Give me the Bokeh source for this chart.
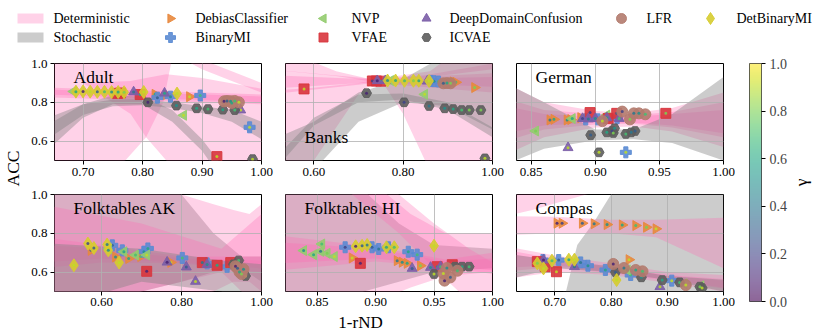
import math
from bokeh.plotting import figure
from bokeh.models import (Range1d, FixedTicker, PrintfTickFormatter, Label, ColorBar,
                          LinearColorMapper, ColumnDataSource)
from bokeh.layouts import column, row
from bokeh.palettes import Viridis256
from bokeh.transform import linear_cmap
from bokeh.embed import file_html
from bokeh.resources import INLINE
from bokeh.core.properties import value

# ---------------- data ----------------
METHODS = ["DebiasClassifier", "BinaryMI", "NVP", "VFAE",
           "DeepDomainConfusion", "ICVAE", "LFR", "DetBinaryMI"]
BAND_KINDS = ["Deterministic", "Stochastic"]

# method -> (1-rND values, ACC values, gamma values)
ADULT = {
    "DebiasClassifier": ([0.821, 0.840, 0.879], [0.841, 0.839, 0.829], [0.6, 0.8, 0.9]),
    "BinaryMI": ([0.825, 0.847, 0.897, 0.980], [0.824, 0.829, 0.835, 0.671], [0.3, 0.5, 0.7, 0.9]),
    "NVP": ([0.684, 0.869], [0.856, 0.733], [0.6, 0.9]),
    "VFAE": ([0.758, 0.763, 0.796, 0.925], [0.846, 0.848, 0.840, 0.520], [0.2, 0.4, 0.6, 0.9]),
    "DeepDomainConfusion": ([0.785, 0.837, 0.965], [0.853, 0.847, 0.760], [0.4, 0.6, 0.9]),
    "ICVAE": ([0.809, 0.857, 0.891, 0.910, 0.935, 0.955, 0.985],
              [0.800, 0.783, 0.769, 0.765, 0.762, 0.760, 0.507],
              [0.1, 0.5, 0.6, 0.7, 0.6, 0.7, 0.9]),
    "LFR": ([0.937, 0.942, 0.948, 0.955, 0.962, 0.950],
            [0.805, 0.807, 0.806, 0.807, 0.800, 0.797],
            [0.1, 0.3, 0.5, 0.7, 0.9, 0.6]),
    "DetBinaryMI": ([0.688, 0.700, 0.712, 0.724, 0.736, 0.748, 0.759, 0.769, 0.802, 0.858],
                    [0.855, 0.856, 0.855, 0.854, 0.854, 0.853, 0.853, 0.852, 0.853, 0.845],
                    [0.6, 0.1, 0.9, 0.3, 0.7, 0.5, 0.6, 0.8, 0.9, 0.9]),
}
BANKS = {
    "DebiasClassifier": ([0.912, 0.918, 0.960], [0.905, 0.903, 0.876], [0.5, 0.7, 0.8]),
    "BinaryMI": ([0.862, 0.869, 0.879], [0.910, 0.909, 0.907], [0.3, 0.5, 0.7]),
    "NVP": ([0.772, 0.848], [0.912, 0.841], [0.6, 0.9]),
    "VFAE": ([0.578, 0.731, 0.740, 0.750], [0.869, 0.910, 0.910, 0.909], [0.9, 0.2, 0.4, 0.6]),
    "DeepDomainConfusion": ([0.742, 0.760, 0.854], [0.911, 0.911, 0.909], [0.1, 0.3, 0.5]),
    "ICVAE": ([0.718, 0.802, 0.858, 0.893, 0.912, 0.931, 0.948, 0.974, 0.983],
              [0.847, 0.800, 0.781, 0.769, 0.765, 0.760, 0.760, 0.760, 0.511],
              [0.1, 0.2, 0.4, 0.5, 0.6, 0.7, 0.8, 0.8, 0.9]),
    "LFR": ([0.890, 0.898, 0.906], [0.898, 0.899, 0.898], [0.3, 0.6, 0.8]),
    "DetBinaryMI": ([0.765, 0.783, 0.803, 0.823, 0.835, 0.858],
                    [0.912, 0.912, 0.911, 0.911, 0.911, 0.910],
                    [0.5, 0.6, 0.7, 0.8, 0.6, 0.9]),
}
GERMAN = {
    "DebiasClassifier": ([0.8646, 0.8677, 0.878, 0.8808, 0.8886, 0.9134],
                         [0.709, 0.712, 0.709, 0.711, 0.721, 0.721],
                         [0.4, 0.6, 0.5, 0.7, 0.8, 0.9]),
    "BinaryMI": ([0.8925, 0.902, 0.917, 0.9238], [0.712, 0.712, 0.718, 0.542], [0.3, 0.5, 0.7, 0.9]),
    "NVP": ([0.8534, 0.882, 0.909], [0.652, 0.716, 0.734], [0.8, 0.6, 0.9]),
    "VFAE": ([0.8959, 0.910, 0.9167, 0.955], [0.747, 0.716, 0.743, 0.743], [0.2, 0.4, 0.3, 0.8]),
    "DeepDomainConfusion": ([0.8787, 0.890, 0.8946, 0.900, 0.909, 0.9186],
                            [0.566, 0.716, 0.714, 0.716, 0.720, 0.716],
                            [0.9, 0.2, 0.4, 0.5, 0.6, 0.7]),
    "ICVAE": ([0.8964, 0.9029, 0.909, 0.913, 0.915, 0.914, 0.9238, 0.928, 0.931],
              [0.631, 0.542, 0.645, 0.652, 0.666, 0.642, 0.637, 0.645, 0.652],
              [0.3, 0.9, 0.6, 0.2, 0.5, 0.8, 0.7, 0.4, 0.3]),
    "LFR": ([0.9055, 0.921, 0.927, 0.930, 0.934, 0.939],
            [0.703, 0.752, 0.712, 0.743, 0.743, 0.738],
            [0.9, 0.2, 0.8, 0.4, 0.5, 0.7]),
    "DetBinaryMI": ([], [], []),
}
FOLK_AK = {
    "DebiasClassifier": ([0.574, 0.635, 0.668, 0.698, 0.773], [0.712, 0.678, 0.670, 0.680, 0.650],
                         [0.3, 0.5, 0.6, 0.7, 0.9]),
    "BinaryMI": ([0.627, 0.652, 0.706, 0.716, 0.802, 0.864, 0.914],
                 [0.738, 0.712, 0.705, 0.722, 0.673, 0.645, 0.627],
                 [0.3, 0.4, 0.5, 0.6, 0.7, 0.8, 0.9]),
    "NVP": ([0.618, 0.656, 0.685, 0.713], [0.720, 0.705, 0.688, 0.688], [0.5, 0.6, 0.7, 0.9]),
    "VFAE": ([0.713, 0.852, 0.889, 0.923], [0.604, 0.649, 0.635, 0.649], [0.1, 0.4, 0.6, 0.8]),
    "DeepDomainConfusion": ([0.764, 0.812, 0.835, 0.864], [0.651, 0.626, 0.552, 0.639], [0.1, 0.3, 0.9, 0.5]),
    "ICVAE": ([0.930, 0.943, 0.960], [0.640, 0.660, 0.580], [0.5, 0.7, 0.9]),
    "LFR": ([0.940, 0.945, 0.950, 0.955, 0.935], [0.620, 0.600, 0.590, 0.615, 0.630], [0.3, 0.6, 0.8, 0.5, 0.1]),
    "DetBinaryMI": ([0.531, 0.566, 0.581, 0.614, 0.617, 0.644],
                    [0.635, 0.747, 0.724, 0.742, 0.712, 0.649],
                    [0.9, 0.2, 0.3, 0.4, 0.5, 0.9]),
}
FOLK_HI = {
    "DebiasClassifier": ([0.880, 0.9185, 0.9228, 0.927, 0.9384], [0.673, 0.659, 0.651, 0.645, 0.633],
                         [0.9, 0.4, 0.5, 0.6, 0.8]),
    "BinaryMI": ([0.874, 0.897, 0.9027, 0.911, 0.928, 0.9356], [0.728, 0.728, 0.719, 0.728, 0.705, 0.690],
                 [0.2, 0.3, 0.4, 0.5, 0.6, 0.7]),
    "NVP": ([0.8385, 0.847, 0.853, 0.854, 0.8586, 0.8648], [0.711, 0.690, 0.707, 0.745, 0.697, 0.680],
            [0.5, 0.6, 0.4, 0.7, 0.8, 0.9]),
    "VFAE": ([0.887, 0.9527, 0.9656], [0.645, 0.628, 0.638], [0.1, 0.5, 0.7]),
    "DeepDomainConfusion": ([0.9313, 0.947, 0.9556], [0.619, 0.624, 0.628], [0.3, 0.5, 0.7]),
    "ICVAE": ([0.950, 0.968, 0.974, 0.980], [0.590, 0.628, 0.628, 0.628], [0.9, 0.5, 0.6, 0.7]),
    "LFR": ([0.958, 0.959, 0.961, 0.964, 0.970], [0.593, 0.556, 0.621, 0.573, 0.607], [0.9, 0.1, 0.5, 0.3, 0.7]),
    "DetBinaryMI": ([0.883, 0.8885, 0.8928, 0.9093, 0.916, 0.950], [0.733, 0.736, 0.740, 0.728, 0.728, 0.736],
                    [0.1, 0.3, 0.4, 0.6, 0.7, 0.9]),
}
COMPAS = {
    "DebiasClassifier": ([0.704, 0.713, 0.749, 0.770, 0.793, 0.820, 0.844, 0.863, 0.880, 0.832],
                         [0.852, 0.852, 0.852, 0.849, 0.845, 0.843, 0.840, 0.831, 0.823, 0.664],
                         [0.1, 0.2, 0.3, 0.4, 0.5, 0.6, 0.7, 0.8, 0.9, 0.9]),
    "BinaryMI": ([0.679, 0.707, 0.746, 0.759, 0.790, 0.835, 0.908],
                 [0.662, 0.662, 0.650, 0.633, 0.611, 0.585, 0.556],
                 [0.2, 0.3, 0.4, 0.5, 0.6, 0.7, 0.9]),
    "NVP": ([0.829, 0.930, 0.960], [0.611, 0.540, 0.530], [0.6, 0.8, 0.9]),
    "VFAE": ([0.669, 0.683, 0.703], [0.654, 0.628, 0.602], [0.3, 0.6, 0.9]),
    "DeepDomainConfusion": ([0.680, 0.735, 0.887], [0.662, 0.628, 0.525], [0.1, 0.4, 0.9]),
    "ICVAE": ([0.808, 0.854, 0.891, 0.922, 0.958, 0.962], [0.599, 0.573, 0.559, 0.547, 0.525, 0.518],
              [0.3, 0.5, 0.6, 0.7, 0.8, 0.9]),
    "LFR": ([0.804, 0.823, 0.844, 0.856, 0.933], [0.642, 0.621, 0.611, 0.604, 0.533], [0.1, 0.4, 0.6, 0.7, 0.9]),
    "DetBinaryMI": ([0.669, 0.680, 0.695, 0.725, 0.735, 0.810], [0.645, 0.619, 0.659, 0.664, 0.664, 0.559],
                    [0.8, 0.9, 0.7, 0.6, 0.9, 0.9]),
}

# confidence bands: (kind, 1-rND knots, lower ACC, upper ACC)
ADULT_BANDS = [
    ("det", [0.60, 0.771, 0.806, 0.835, 0.848], [0.30, 0.50, 0.62, 0.80, 1.00], [1.20, 1.20, 1.20, 1.20, 1.20]),
    ("det", [0.70, 0.78, 0.806, 0.84, 0.90, 1.0], [0.90, 0.74, 0.62, 0.50, 0.30, 0.10], [0.90, 0.91, 0.925, 0.945, 0.925, 0.87]),
    ("det", [0.87, 0.90, 0.95, 1.0], [1.02, 0.97, 0.91, 0.85], [1.08, 1.02, 0.96, 0.90]),
    ("det", [0.60, 1.0], [0.83, 0.79], [0.88, 0.84]),
    ("det", [0.60, 1.0], [0.845, 0.80], [0.87, 0.83]),
    ("sto", [0.65, 0.70, 0.75, 0.80, 0.85, 0.90, 0.95, 1.0],
     [0.63, 0.735, 0.78, 0.785, 0.77, 0.745, 0.70, 0.61], [0.73, 0.79, 0.815, 0.815, 0.80, 0.78, 0.76, 0.70]),
    ("sto", [0.65, 0.70, 0.75, 0.80, 0.85, 0.90, 0.95],
     [0.58, 0.72, 0.79, 0.79, 0.70, 0.55, 0.33], [0.70, 0.79, 0.835, 0.83, 0.76, 0.61, 0.41]),
]
BANKS_BANDS = [
    ("det", [0.50, 0.65, 0.735, 0.76, 0.80, 0.849, 0.90, 1.0],
     [0.97, 0.935, 0.905, 0.88, 0.74, 0.50, 0.25, -0.2], [1.10, 0.96, 0.915, 0.92, 0.93, 0.94, 0.96, 1.0]),
    ("det", [0.50, 0.60, 0.70, 0.735, 0.77, 0.86, 1.0],
     [-0.2, 0.50, 0.84, 0.905, 0.915, 0.93, 0.97], [0.86, 0.875, 0.90, 0.915, 0.93, 0.96, 1.2]),
    ("det", [0.50, 0.735, 1.0], [0.84, 0.90, 0.85], [0.97, 0.92, 0.95]),
    ("det", [0.50, 0.735, 1.0], [0.87, 0.903, 0.88], [0.94, 0.917, 0.93]),
    ("sto", [0.50, 0.60, 0.70, 0.80, 0.90, 1.0], [0.30, 0.45, 0.70, 0.80, 0.78, 0.66], [0.60, 0.70, 0.85, 0.92, 1.05, 1.30]),
    ("sto", [0.50, 0.60, 0.70, 0.80, 0.90, 1.0], [0.42, 0.68, 0.80, 0.815, 0.76, 0.62], [0.48, 0.72, 0.84, 0.845, 0.80, 0.67]),
]
GERMAN_BANDS = [
    ("det", [0.83, 0.86, 0.90, 0.93, 0.96, 1.0], [0.53, 0.62, 0.67, 0.675, 0.65, 0.57], [0.90, 0.80, 0.755, 0.745, 0.77, 0.85]),
    ("det", [0.83, 0.86, 0.90, 0.93, 0.96, 1.0], [0.60, 0.66, 0.685, 0.69, 0.67, 0.62], [0.82, 0.76, 0.74, 0.735, 0.75, 0.80]),
    ("det", [0.83, 0.86, 0.90, 0.93, 0.96, 1.0], [0.64, 0.68, 0.695, 0.695, 0.68, 0.64], [0.78, 0.74, 0.725, 0.725, 0.74, 0.76]),
    ("sto", [0.83, 0.86, 0.90, 0.93, 0.96, 1.0], [0.48, 0.56, 0.605, 0.61, 0.59, 0.50], [0.90, 0.80, 0.66, 0.66, 0.74, 0.93]),
]
AK_BANDS = [
    ("sto", [0.45, 0.60, 0.70, 0.80, 0.88, 0.95, 1.0], [0.20, 0.40, 0.50, 0.55, 0.60, 0.62, 0.55], [1.2, 1.1, 1.05, 1.0, 0.80, 0.68, 0.68]),
    ("det", [0.45, 0.60, 0.70, 0.80, 0.88, 0.93, 0.97, 1.0], [0.2, 0.3, 0.4, 0.45, 0.50, 0.55, 0.55, 0.5], [1.3, 1.1, 1.05, 1.0, 0.95, 0.92, 0.9, 0.95]),
    ("det", [0.45, 0.70, 0.90, 1.0], [0.40, 0.50, 0.60, 0.40], [0.95, 0.85, 0.72, 0.90]),
    ("det", [0.45, 0.60, 0.80, 1.0], [0.62, 0.65, 0.645, 0.60], [0.78, 0.74, 0.68, 0.68]),
    ("det", [0.45, 0.60, 0.80, 1.0], [0.65, 0.67, 0.65, 0.62], [0.74, 0.72, 0.67, 0.66]),
    ("sto", [0.45, 0.70, 0.90, 1.0], [0.40, 0.55, 0.50, 0.30], [0.75, 0.72, 0.66, 0.64]),
]
HI_BANDS = [
    ("sto", [0.80, 0.85, 0.89, 0.92, 0.95, 1.0], [0.30, 0.40, 0.50, 0.55, 0.60, 0.62], [1.2, 1.1, 1.02, 0.85, 0.74, 0.72]),
    ("det", [0.80, 0.85, 0.90, 0.93, 0.96, 1.0], [0.30, 0.40, 0.45, 0.52, 0.58, 0.60], [1.3, 1.15, 1.05, 0.90, 0.80, 0.80]),
    ("det", [0.80, 0.90, 0.96, 1.0], [0.60, 0.655, 0.625, 0.59], [0.80, 0.73, 0.665, 0.70]),
    ("det", [0.80, 0.90, 0.96, 1.0], [0.64, 0.67, 0.63, 0.61], [0.76, 0.72, 0.655, 0.67]),
    ("det", [0.88, 0.92, 0.95, 0.98, 1.0], [1.00, 0.80, 0.62, 0.45, 0.30], [1.10, 1.00, 0.85, 0.72, 0.65]),
]
COMPAS_BANDS = [
    ("sto", [0.715, 0.72, 0.74, 0.77, 0.80, 1.0], [0.50, 0.30, 0.30, 0.30, 0.30, 0.30], [0.50, 0.50, 0.74, 0.86, 1.00, 1.10]),
    ("det", [0.60, 0.70, 0.80, 0.88, 1.0], [0.79, 0.80, 0.80, 0.78, 0.62], [0.89, 0.885, 0.87, 0.87, 0.88]),
    ("det", [0.60, 0.66, 0.72, 0.78], [0.88, 0.92, 0.97, 1.02], [0.98, 1.02, 1.06, 1.10]),
    ("det", [0.60, 0.70, 0.80, 0.90, 1.0], [0.56, 0.60, 0.585, 0.545, 0.50], [0.74, 0.685, 0.645, 0.60, 0.585]),
    ("det", [0.60, 0.70, 0.80, 0.90, 1.0], [0.60, 0.625, 0.595, 0.555, 0.515], [0.72, 0.67, 0.63, 0.585, 0.565]),
    ("det", [0.60, 0.70, 0.80, 0.90, 1.0], [0.62, 0.635, 0.60, 0.56, 0.52], [0.70, 0.66, 0.625, 0.58, 0.555]),
    ("sto", [0.60, 0.70, 0.80, 0.90, 1.0], [0.55, 0.62, 0.60, 0.56, 0.50], [0.70, 0.66, 0.63, 0.58, 0.56]),
]

Y_TICKS = [0.6, 0.8, 1.0]
CB_TICKS = [0.0, 0.2, 0.4, 0.6, 0.8, 1.0]

PANELS = [
    dict(name="Adult", data=ADULT, bands=ADULT_BANDS, xr=(0.652, 1.0), xticks=[0.7, 0.8, 0.9, 1.0], top=True),
    dict(name="Banks", data=BANKS, bands=BANKS_BANDS, xr=(0.5365, 1.0), xticks=[0.6, 0.8, 1.0], top=False),
    dict(name="German", data=GERMAN, bands=GERMAN_BANDS, xr=(0.8385, 1.0), xticks=[0.85, 0.90, 0.95, 1.0], top=True),
    dict(name="Folktables AK", data=FOLK_AK, bands=AK_BANDS, xr=(0.4825, 1.0), xticks=[0.6, 0.8, 1.0], top=True),
    dict(name="Folktables HI", data=FOLK_HI, bands=HI_BANDS, xr=(0.823, 1.0), xticks=[0.85, 0.90, 0.95, 1.0], top=True),
    dict(name="Compas", data=COMPAS, bands=COMPAS_BANDS, xr=(0.632, 1.0), xticks=[0.7, 0.8, 0.9, 1.0], top=True),
]

# ---------------- styles / layout ----------------
FONT = "Liberation Serif"
DET_COLOR, DET_ALPHA = "#ff69b4", 0.3
STO_COLOR, STO_ALPHA = "#808080", 0.4
STYLE = {
    "DebiasClassifier": dict(marker="triangle", angle=-math.pi / 2, color="#e8883d", size=10),
    "BinaryMI": dict(marker="plus", angle=0.0, color="#5b8bd3", size=11),
    "NVP": dict(marker="triangle", angle=math.pi / 2, color="#93cc6f", size=10),
    "VFAE": dict(marker="square", angle=0.0, color="#d8353d", size=10),
    "DeepDomainConfusion": dict(marker="triangle", angle=0.0, color="#7b5ea7", size=10),
    "ICVAE": dict(marker="hex", angle=0.0, color="#5d5d5d", size=10),
    "LFR": dict(marker="circle", angle=0.0, color="#b27b6e", size=11),
    "DetBinaryMI": dict(marker="diamond", angle=0.0, color="#d6cc2f", size=13),
}

ACC_W = 28
WIDTHS = [247, 231, 229]
BL = [26, 10, 10]
BR = [14, 14, 12]
HEIGHTS = [131, 126]
BT = 8
BB = [26, 21]
STANDOFF = [3, 2]
XLAB_H = 22
CB_W = 87
SIDE_H = HEIGHTS[0] + HEIGHTS[1] + XLAB_H
LEG_W, LEG_H = ACC_W + sum(WIDTHS) + CB_W, 55
FRAME_W, FRAME_H = 207, 97
PAGE_BOTTOM = LEG_H + SIDE_H


def blank(width, height):
    f = figure(width=width, height=height, x_range=Range1d(0, width), y_range=Range1d(0, height),
               output_backend="svg", toolbar_location=None, x_axis_type=None, y_axis_type=None,
               min_border_left=0, min_border_right=0, min_border_top=0, min_border_bottom=0)
    f.outline_line_color = None
    f.background_fill_color = "white"
    f.border_fill_color = "white"
    return f


def make_panel(spec, col, r):
    x0, x1 = spec["xr"]
    p = figure(width=WIDTHS[col], height=HEIGHTS[r], x_range=Range1d(x0, x1), y_range=Range1d(0.5, 1.0),
               output_backend="svg", toolbar_location=None,
               min_border_left=BL[col], min_border_right=BR[col],
               min_border_top=BT, min_border_bottom=BB[r])
    p.background_fill_color = "white"
    p.border_fill_color = "white"
    p.outline_line_color = "black"
    p.outline_line_width = 1
    p.outline_line_alpha = 1.0

    for kind, xs, lo, hi in spec["bands"]:
        rr = p.varea(x=xs, y1=lo, y2=hi,
                     fill_color=DET_COLOR if kind == "det" else STO_COLOR,
                     fill_alpha=DET_ALPHA if kind == "det" else STO_ALPHA)
        rr.level = "image"

    for m in METHODS:
        xs, ys, gs = spec["data"][m]
        if not xs:
            continue
        st = STYLE[m]
        src = ColumnDataSource(dict(x=xs, y=ys, g=gs))
        p.scatter("x", "y", source=src, marker=st["marker"], size=st["size"], angle=st["angle"],
                  fill_color=st["color"], line_color=st["color"], fill_alpha=0.9, line_alpha=0.9)
        p.scatter("x", "y", source=src, marker="circle", size=3,
                  fill_color=linear_cmap("g", Viridis256, 0, 1), line_color=None, fill_alpha=0.85)

    p.xaxis.ticker = FixedTicker(ticks=spec["xticks"])
    p.xaxis.formatter = PrintfTickFormatter(format="%.2f")
    p.yaxis.ticker = FixedTicker(ticks=Y_TICKS)
    p.yaxis.formatter = PrintfTickFormatter(format="%.1f")
    for ax in (p.xaxis[0], p.yaxis[0]):
        ax.axis_line_color = None
        ax.major_tick_line_color = "black"
        ax.major_tick_out = 4
        ax.major_tick_in = 0
        ax.minor_tick_line_color = None
        ax.major_label_text_font = FONT
        ax.major_label_text_font_size = "13px"
        ax.major_label_text_color = "black"
        ax.major_label_standoff = 3
    p.xaxis.major_label_standoff = STANDOFF[r]
    if col != 0:
        p.yaxis.visible = False
    p.grid.grid_line_color = "#b0b0b0"
    p.grid.grid_line_alpha = 0.8
    p.grid.level = "underlay"

    ty = 1.0 - 13 / FRAME_H * 0.5 if spec["top"] else 1.0 - 73 / FRAME_H * 0.5
    p.add_layout(Label(x=x0 + 19 / FRAME_W * (x1 - x0), y=ty, text=spec["name"], text_font=FONT,
                       text_font_size="17.5px", text_baseline="middle", text_align="left",
                       text_color="black"))
    return p


panels = [make_panel(spec, i % 3, i // 3) for i, spec in enumerate(PANELS)]

# shared axis labels in their own strips
acc_fig = blank(ACC_W, SIDE_H)
acc_fig.add_layout(Label(x=12, y=PAGE_BOTTOM - 168, text="ACC", angle=math.pi / 2, text_font=FONT,
                         text_font_size="17.5px", text_align="center", text_baseline="middle",
                         text_color="black"))
xlab_fig = blank(sum(WIDTHS), XLAB_H)
xlab_fig.add_layout(Label(x=360 - ACC_W, y=PAGE_BOTTOM - 322, text="1-rND", text_font=FONT,
                          text_font_size="17px", text_align="center", text_baseline="middle",
                          text_color="black"))

# ---------------- colour bar ----------------
cb_fig = blank(CB_W, SIDE_H)
mapper = LinearColorMapper(palette=Viridis256, low=0, high=1)
cb = ColorBar(color_mapper=mapper, ticker=FixedTicker(ticks=CB_TICKS),
              formatter=PrintfTickFormatter(format="%.1f"),
              width=12, height=238, location=(14, PAGE_BOTTOM - 301), padding=0, margin=0,
              scale_alpha=0.6, bar_line_color="black", bar_line_width=1,
              major_tick_line_color="black", major_tick_out=4, major_tick_in=0,
              minor_tick_line_color=None, label_standoff=4,
              major_label_text_font=FONT, major_label_text_font_size="14px",
              background_fill_color=None, border_line_color=None)
cb_fig.add_layout(cb)
cb_fig.add_layout(Label(x=65, y=PAGE_BOTTOM - 182, text="γ", angle=math.pi / 2, text_font=FONT,
                        text_font_size="17.5px", text_align="center", text_baseline="middle",
                        text_color="black"))

# ---------------- legend ----------------
leg = blank(LEG_W, LEG_H)
ROW_Y = [LEG_H - 18, LEG_H - 37]
leg.quad(left=[17], right=[43], bottom=[ROW_Y[0] - 5], top=[ROW_Y[0] + 5],
         fill_color=DET_COLOR, fill_alpha=DET_ALPHA, line_color=None)
leg.quad(left=[17], right=[43], bottom=[ROW_Y[1] - 5], top=[ROW_Y[1] + 5],
         fill_color=STO_COLOR, fill_alpha=STO_ALPHA, line_color=None)
leg.text(x=[53, 53], y=ROW_Y, text=BAND_KINDS, text_font=value(FONT), text_font_size=value("14px"),
         text_baseline="middle", text_align="left", text_color="black")
LEG_POS = {"DebiasClassifier": (170, 195, 0), "BinaryMI": (170, 195, 1),
           "NVP": (323, 351, 0), "VFAE": (323, 351, 1),
           "DeepDomainConfusion": (426, 449, 0), "ICVAE": (426, 449, 1),
           "LFR": (621, 646, 0), "DetBinaryMI": (710, 736, 0)}
for m in METHODS:
    mx, tx, rr = LEG_POS[m]
    st = STYLE[m]
    leg.scatter(x=[mx], y=[ROW_Y[rr]], marker=st["marker"], size=st["size"] - 1, angle=st["angle"],
                fill_color=st["color"], line_color=st["color"], fill_alpha=0.9, line_alpha=0.9)
    leg.text(x=[tx], y=[ROW_Y[rr]], text=[m], text_font=value(FONT), text_font_size=value("14px"),
             text_baseline="middle", text_align="left", text_color="black")

layout = column(leg, row(acc_fig, column(row(*panels[:3]), row(*panels[3:]), xlab_fig), cb_fig))
open("out.html", "w", encoding="utf-8").write(file_html(layout, INLINE))
